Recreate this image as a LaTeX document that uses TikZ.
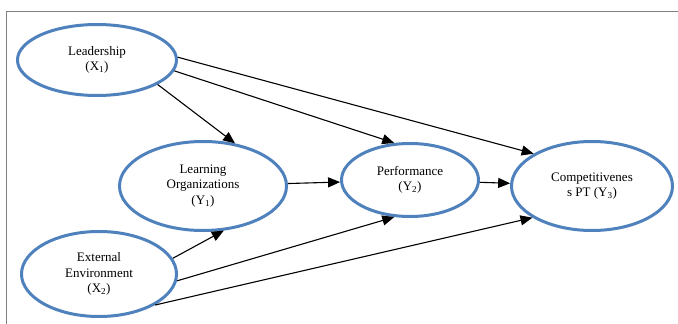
\documentclass[tikz,border=0pt]{standalone}
\usepackage{fontspec}
\setmainfont{Liberation Serif}
\usetikzlibrary{shapes.geometric,arrows.meta}
\definecolor{ovalblue}{RGB}{79,129,189}

\begin{document}
\begin{tikzpicture}[x=1pt, y=-1pt, font=\fontsize{13}{15.5}\selectfont,
   var/.style={ellipse, draw=ovalblue, line width=3pt, align=center, inner sep=0pt},
   link/.style={every edge/.style={draw, line width=1.1pt, -{Triangle[length=12pt,width=10pt]}}}]
      \useasboundingbox (0,0) rectangle (678,324);
      \draw[gray, line width=1pt] (6,324) -- (6,11) -- (678,11);

      \node[var, name=lead, minimum width=159pt, minimum height=71pt] at (97,60) {Leadership\\(X\textsubscript{1})};
      \node[var, name=lo, minimum width=167pt, minimum height=89pt] at (203,186) {Learning\\Organizations\\(Y\textsubscript{1})};
      \node[var, name=ext, minimum width=155pt, minimum height=85pt] at (99,274) {External\\Environment\\(X\textsubscript{2})};
      \node[var, name=perf, minimum width=137pt, minimum height=73pt] at (410,180) {Performance\\(Y\textsubscript{2})};
      \node[var, name=comp, minimum width=161pt, minimum height=89pt] at (592,186) {Competitivenes\\s PT (Y\textsubscript{3})};

      \path[link]
         (lead.-22) edge (lo.53)
         (lead.-8) edge (perf.113)
         (lead.2) edge (comp.151)
         (lo) edge (perf)
         (perf) edge (comp)
         (ext.12) edge (lo.-65)
         (ext.-5) edge (perf.-113)
         (ext.-29) edge (comp.-152);
   \end{tikzpicture}
\end{document}
